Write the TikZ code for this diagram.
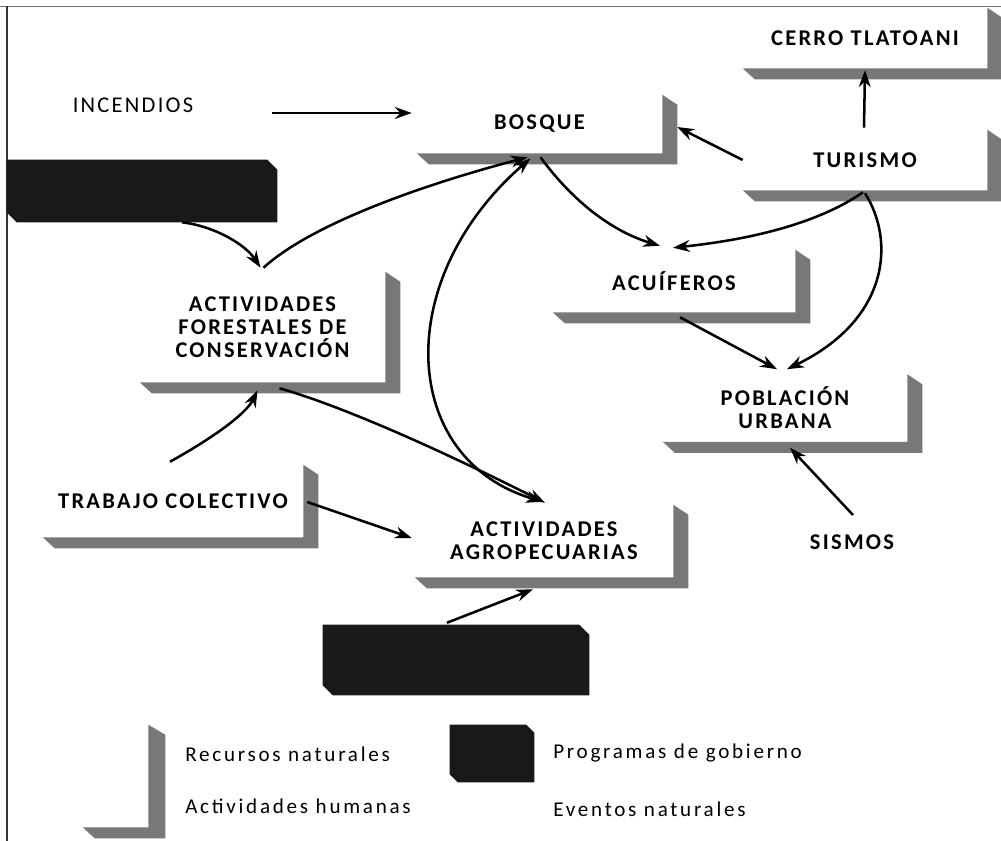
\documentclass[tikz,border=0pt]{standalone}
\usepackage{fontspec}
\usetikzlibrary{arrows.meta,calc}
\newfontfamily\labfont[LetterSpace=10]{Carlito}
\newfontfamily\legfont[LetterSpace=13]{Carlito}
\newdimen\PXu \PXu=0.025cm
\definecolor{shadowcol}{gray}{0.47}
\definecolor{progcol}{gray}{0.1}
\newcommand\shad[3]{\fill[shadowcol] (#1.north east) -- ++(#2,10) -- ($(#1.south east)+(#2,#3)$) -- ($(#1.south west)+(12,#3)$) -- (#1.south west) -- (#1.south east) -- cycle;}
\newcommand\progfill[2]{\fill[progcol] (#1.north west) -- ($(#1.north east)+(-#2,0)$) -- ($(#1.north east)+(0,#2)$) -- (#1.south east) -- ($(#1.south west)+(#2,0)$) -- ($(#1.south west)+(0,-#2)$) -- cycle;}
\begin{document}
\begin{tikzpicture}[x=0.025cm,y=-0.025cm,
  box/.style 2 args={rectangle, inner sep=0pt, minimum width=#1\PXu, minimum height=#2\PXu, align=center,
    font=\labfont\bfseries\fontsize{16pt}{16.4pt}\selectfont},
  event/.style={inner sep=0pt, font=\labfont\fontsize{16pt}{16.4pt}\selectfont},
  eventb/.style={inner sep=0pt, font=\labfont\bfseries\fontsize{16pt}{16.4pt}\selectfont},
  prog/.style={rectangle, draw=none, inner sep=0pt},
  arr/.style={line width=1.8pt, -{Stealth[length=12pt,width=8.5pt]}},
  arrb/.style={line width=1.8pt, {Stealth[length=12pt,width=8.5pt]}-{Stealth[length=12pt,width=8.5pt]}},
  legtext/.style={inner sep=0pt, anchor=mid west, font=\legfont\fontsize{15pt}{16pt}\selectfont}
]
\useasboundingbox (0,0) rectangle (1001,841);
% frame
\draw[black!55, line width=0.6pt] (0,6) -- (1001,6);
\draw[black!80, line width=0.8pt] (7,6) -- (7,841);

% boxes
\node[box={245}{58}] (bosque) at (539.5,124) {BOSQUE};
\node[box={244}{60}] (cerro) at (865,38) {CERRO TLATOANI};
\node[box={244}{60}] (turismo) at (865,160) {TURISMO};
\node[box={242}{62}] (acuiferos) at (674,281) {ACUÍFEROS};
\node[box={244}{67}] (poblacion) at (785,408) {POBLACIÓN\\URBANA};
\node[box={245}{110}] (forestales) at (262.5,327) {ACTIVIDADES\\FORESTALES DE\\CONSERVACIÓN};
\node[box={260}{72}] (trabajo) at (173,501) {TRABAJO COLECTIVO};
\node[box={258}{72}] (agro) at (544,541) {ACTIVIDADES\\AGROPECUARIAS};
\foreach \n in {bosque,cerro,turismo,acuiferos,poblacion,forestales,trabajo,agro}{\shad{\n}{15}{11}}

% events
\node[event] (incendios) at (133,105) {INCENDIOS};
\node[eventb] (sismos) at (852,542) {SISMOS};

% government programmes
\node[prog, minimum width=270\PXu, minimum height=62\PXu] (prog1) at (142,191) {};
\node[prog, minimum width=266\PXu, minimum height=70\PXu] (prog2) at (456,660) {};
\progfill{prog1}{10}
\progfill{prog2}{10}

% connectors
\draw[arr] ($(incendios.center)+(139,8)$) -- ($(bosque.west)+(-5,-11)$);
\draw[arr] ($(prog1.south)+(40,0)$) .. controls +(33,4) and +(-15,-23) .. ($(forestales.north)+(-2,-4)$);
\draw[arr] ($(forestales.north)+(1,-4)$) .. controls +(47,-43) and +(-107,28) .. ($(bosque.south)+(-12,4)$);
\draw[arrb] ($(agro.north)+(-1,-3)$) .. controls +(-143,-42) and +(-140,122) .. ($(bosque.south)+(-9,5)$);
\draw[arr] ($(forestales.south)+(17,6)$) .. controls +(53,15) and +(-123,-62) .. ($(agro.north)+(1,-2)$);
\draw[arr] ($(trabajo.north)+(-3,-3)$) .. controls +(45,-25) and +(-11,23) .. ($(forestales.south)+(-5,8)$);
\draw[arr] ($(trabajo.east)+(4,1)$) -- ($(agro.west)+(-3,-3)$);
\draw[arr] ($(prog2.north)+(-9,-2)$) -- ($(agro.south)+(-11,12)$);
\draw[arr] (turismo.west) -- ($(bosque.east)+(15,3)$);
\draw[arr] ($(turismo.north)+(-1,-2)$) -- ($(cerro.south)+(0,2)$);
\draw[arr] ($(bosque.south)+(1,4)$) .. controls +(33,45) and +(-47,-14) .. ($(acuiferos.north)+(-14,-4)$);
\draw[arr] ($(turismo.south)+(-2,2)$) .. controls +(-42,29) and +(85,-9) .. ($(acuiferos.north)+(-1,-2)$);
\draw[arr] ($(turismo.south)+(0,3)$) .. controls +(30,47) and +(103,-50) .. ($(poblacion.north)+(2,-5)$);
\draw[arr] ($(acuiferos.south)+(6,5)$) -- ($(poblacion.north)+(-8,-5)$);
\draw[arr] ($(sismos.center)+(1,-27)$) -- ($(poblacion.south)+(5,6)$);

% legend
\node[inner sep=0pt, minimum width=65\PXu, minimum height=102\PXu] (legres) at (115.5,776) {};
\shad{legres}{17}{11}
\node[prog, minimum width=84\PXu, minimum height=57\PXu] (legprog) at (492,753.5) {};
\progfill{legprog}{8}
\node[legtext] (lrec) at (185,758) {Recursos naturales};
\node[legtext] (lact) at (185,810) {Actividades humanas};
\node[legtext] (lprog) at (553,755) {Programas de gobierno};
\node[legtext] (lev) at (553,813) {Eventos naturales};
\end{tikzpicture}
\end{document}
